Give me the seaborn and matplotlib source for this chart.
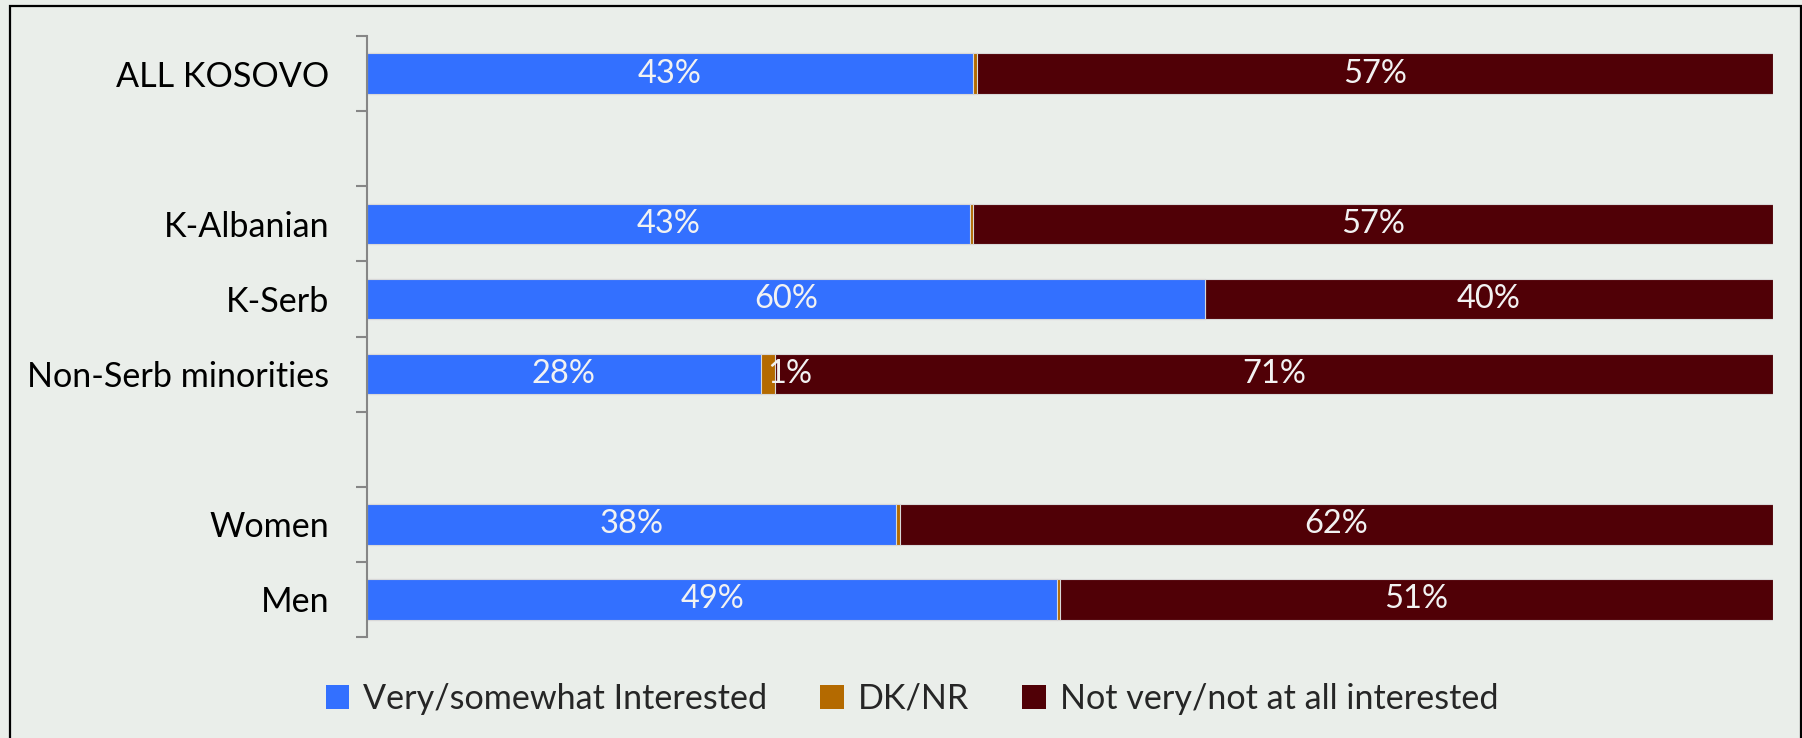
import matplotlib
matplotlib.use("Agg")
import matplotlib.pyplot as plt
from matplotlib.patches import Rectangle, Patch
import numpy as np
import pandas as pd
import seaborn as sns

# Survey shares (percent) per group
groups = ["ALL KOSOVO", "K-Albanian", "K-Serb", "Non-Serb minorities", "Women", "Men"]
slots = [0, 2, 3, 4, 6, 7]          # row slots; 1 and 5 are spacer rows
interested = [43.1, 42.9, 59.6, 28.0, 37.6, 49.1]
dk_nr = [0.3, 0.2, 0.0, 1.0, 0.3, 0.2]
not_interested = [56.6, 56.9, 40.4, 71.0, 62.1, 50.7]
series_names = ["Very/somewhat Interested", "DK/NR", "Not very/not at all interested"]

BG = "#EAEEEA"
C_BLUE = "#3370FF"
C_DK = "#B46A00"
C_RED = "#500006"
C_AXIS = "#868686"

sns.set_theme(style="white")
plt.rcParams["font.family"] = ["Lato", "DejaVu Sans"]

df = pd.DataFrame({
    "slot": slots,
    "group": groups,
    "blue": np.array(interested) / 100,
    "dk": np.array(dk_nr) / 100,
    "red": np.array(not_interested) / 100,
})
df["blue_end"] = df["blue"]
df["dk_end"] = df["blue"] + df["dk"]
df["red_end"] = df["dk_end"] + df["red"]

fig = plt.figure(figsize=(18.02, 7.38), dpi=100, facecolor=BG)
ax = fig.add_axes([367 / 1802, 1 - 637 / 738, 1406 / 1802, 601 / 738])
ax.set_facecolor(BG)

# Stacked bars drawn as layered cumulative totals
for col, color in [("red_end", C_RED), ("dk_end", C_DK), ("blue_end", C_BLUE)]:
    sns.barplot(data=df, x=col, y="slot", orient="h", native_scale=True,
                color=color, saturation=1, width=0.54,
                edgecolor="#D8D8D8", linewidth=0.8, ax=ax)

ax.set_xlim(0, 1)
ax.set_ylim(7.5, -0.5)

# Value labels
lab_kw = dict(color="#F2F2F2", fontsize=23.5, va="center")
for _, r in df.iterrows():
    ax.text(r["blue"] / 2, r["slot"], f"{round(r['blue'] * 100):.0f}%", ha="center", **lab_kw)
    ax.text(r["dk_end"] + r["red"] / 2, r["slot"], f"{round(r['red'] * 100):.0f}%", ha="center", **lab_kw)
    if r["dk"] >= 0.005:
        ax.text(r["blue"] + r["dk"] / 2, r["slot"], f"{round(r['dk'] * 100):.0f}%", ha="left", **lab_kw)

# Axis styling
for s in ["top", "right", "bottom"]:
    ax.spines[s].set_visible(False)
ax.spines["left"].set_color(C_AXIS)
ax.spines["left"].set_linewidth(1.5)
ax.set_xticks([])
ax.set_xlabel("")
ax.set_ylabel("")
ax.set_yticks(np.arange(-0.5, 8.0, 1.0))
ax.set_yticklabels([])
ax.tick_params(axis="y", which="major", direction="out", length=8, width=1.5,
               color=C_AXIS, left=True)
ax.set_yticks(slots, minor=True)
ax.set_yticklabels(groups, minor=True)
ax.tick_params(axis="y", which="minor", length=0, pad=27, labelsize=24.6, labelcolor="black")

# Legend
handles = [Patch(facecolor=c, edgecolor="none") for c in (C_BLUE, C_DK, C_RED)]
fig.legend(handles, series_names, loc="center", bbox_to_anchor=(0.506, 1 - 699 / 738),
           ncol=3, frameon=False, fontsize=24.6, handlelength=0.7, handleheight=0.7,
           handletextpad=0.4, columnspacing=1.55)

# Outer frame
fig.patches.append(Rectangle((9.5 / 1802, -0.02), (1801 - 9.5) / 1802, 1.02 - 6.5 / 738,
                             transform=fig.transFigure, fill=False,
                             edgecolor="black", linewidth=1.6))

fig.savefig("out.png", dpi=100, facecolor=BG)
